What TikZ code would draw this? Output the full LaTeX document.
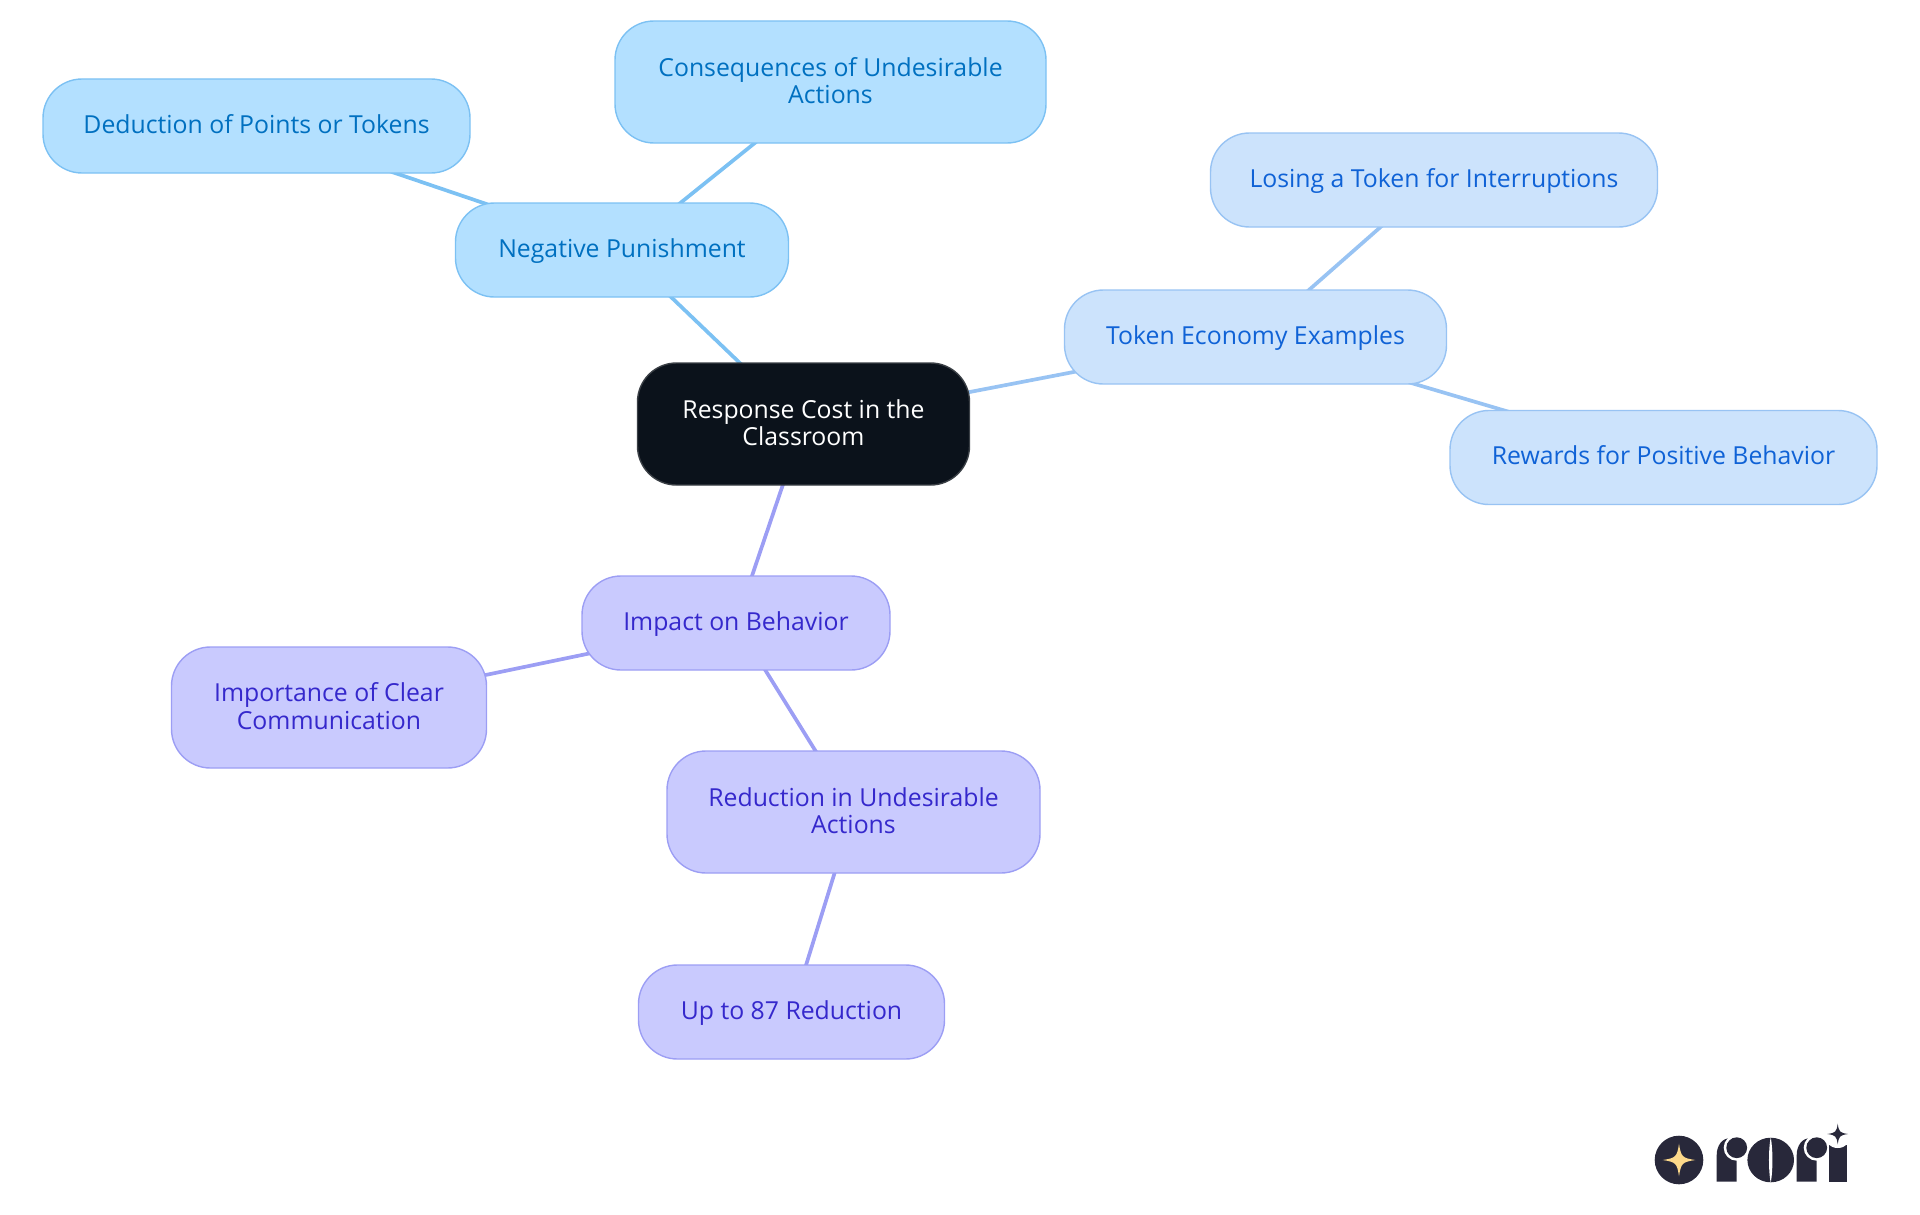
\documentclass[tikz,border=0pt]{standalone}
\usepackage{fontspec}
\setmainfont{Open Sans}
\usetikzlibrary{backgrounds}

\definecolor{rootfill}{HTML}{0B121B}
\definecolor{rootline}{HTML}{3A3F45}
\definecolor{punishfill}{HTML}{B3E0FF}
\definecolor{punishline}{HTML}{7CC1F3}
\definecolor{punishtext}{HTML}{0070C0}
\definecolor{tokenfill}{HTML}{CCE3FC}
\definecolor{tokenline}{HTML}{98C3F3}
\definecolor{tokentext}{HTML}{0F62D6}
\definecolor{impactfill}{HTML}{C9CAFE}
\definecolor{impactline}{HTML}{9C9EF4}
\definecolor{impacttext}{HTML}{3528CC}
\definecolor{logodark}{HTML}{28283A}
\definecolor{logostar}{HTML}{FDD98A}

\newcommand{\sparkle}[4]{% fill, x, y, radius
  \fill[#1] (#2-#4,#3) .. controls (#2-0.2*#4,#3-0.12*#4) and (#2-0.12*#4,#3-0.2*#4) .. (#2,#3-#4)
    .. controls (#2+0.12*#4,#3-0.2*#4) and (#2+0.2*#4,#3-0.12*#4) .. (#2+#4,#3)
    .. controls (#2+0.2*#4,#3+0.12*#4) and (#2+0.12*#4,#3+0.2*#4) .. (#2,#3+#4)
    .. controls (#2-0.12*#4,#3+0.2*#4) and (#2-0.2*#4,#3+0.12*#4) .. cycle;}
\newcommand{\logor}[1]{% letter r, stem starts at x=#1
  \fill[logodark] (#1,1181.7) -- (#1,1155) .. controls (#1,1146) and (#1+5,1138) .. (#1+14,1138)
    -- (#1+20,1138) -- (#1+20,1181.7) -- cycle;
  \fill[white] (#1+20,1147.7) circle (13);
  \fill[logodark] (#1+20,1147.7) circle (10.4);}

\tikzset{
  mapnode/.style={draw, rounded corners=39pt, line width=1.4pt, align=center, inner sep=0pt, outer sep=0pt,
    font=\fontsize{24.8pt}{27.4pt}\selectfont, text height=19pt, text depth=5pt},
  twolines/.style={text height=48.4pt},
  rootnode/.style={mapnode, fill=rootfill, draw=rootline, text=white},
  punishnode/.style={mapnode, fill=punishfill, draw=punishline, text=punishtext},
  tokennode/.style={mapnode, fill=tokenfill, draw=tokenline, text=tokentext},
  impactnode/.style={mapnode, fill=impactfill, draw=impactline, text=impacttext},
  punishedge/.style={draw=punishline, line width=3.7pt},
  tokenedge/.style={draw=tokenline, line width=3.7pt},
  impactedge/.style={draw=impactline, line width=3.7pt},
}

\begin{document}
\begin{tikzpicture}[x=1pt,y=-1pt]
  \useasboundingbox (0,0) rectangle (1920,1215);

  \node[rootnode, twolines, minimum width=332pt, minimum height=122pt] (root) at (803.5,424) {Response Cost in the\\Classroom};

  \node[punishnode, minimum width=333pt, minimum height=94pt] (negative) at (622,250) {Negative Punishment};
  \node[punishnode, minimum width=427pt, minimum height=94pt] (deduction) at (256.5,126) {Deduction of Points or Tokens};
  \node[punishnode, twolines, minimum width=431pt, minimum height=122pt] (consequences) at (830.5,82) {Consequences of Undesirable\\Actions};

  \node[tokennode, minimum width=382pt, minimum height=94pt] (token) at (1255.5,337) {Token Economy Examples};
  \node[tokennode, minimum width=447pt, minimum height=94pt] (losing) at (1434,180) {Losing a Token for Interruptions};
  \node[tokennode, minimum width=427pt, minimum height=94pt] (rewards) at (1663.5,457.5) {Rewards for Positive Behavior};

  \node[impactnode, minimum width=308pt, minimum height=94pt] (impact) at (736,623) {Impact on Behavior};
  \node[impactnode, twolines, minimum width=315pt, minimum height=121pt] (importance) at (329,707.5) {Importance of Clear\\Communication};
  \node[impactnode, twolines, minimum width=373pt, minimum height=122pt] (reduction) at (853.5,812) {Reduction in Undesirable\\Actions};
  \node[impactnode, minimum width=306pt, minimum height=94pt] (upto) at (791.5,1012) {Up to 87 Reduction};

  \begin{scope}[on background layer]
    \draw[punishedge] (root.center) -- (negative.center);
    \draw[punishedge] (negative.center) -- (deduction.center);
    \draw[punishedge] (negative.center) -- (consequences.center);
    \draw[tokenedge] (root.center) -- (token.center);
    \draw[tokenedge] (token.center) -- (losing.center);
    \draw[tokenedge] (token.center) -- (rewards.center);
    \draw[impactedge] (root.center) -- (impact.center);
    \draw[impactedge] (impact.center) -- (importance.center);
    \draw[impactedge] (impact.center) -- (reduction.center);
    \draw[impactedge] (reduction.center) -- (upto.center);
  \end{scope}

  % logo
  \fill[logodark] (1679,1160) circle (24.3);
  \sparkle{logostar}{1679}{1160}{16.3}
  \logor{1716.7}
  \fill[logodark] (1770.7,1160) ellipse (23.3 and 22.3);
  \fill[white] (1770.7,1137) .. controls (1768.4,1150) and (1768.4,1170) .. (1770.7,1183)
    .. controls (1773,1170) and (1773,1150) .. cycle;
  \logor{1796.7}
  \fill[logodark] (1829,1181.7) rectangle (1846.7,1145);
  \fill[white] (1837.7,1134) circle (14);
  \sparkle{logodark}{1837.7}{1134}{10.3}
\end{tikzpicture}
\end{document}
